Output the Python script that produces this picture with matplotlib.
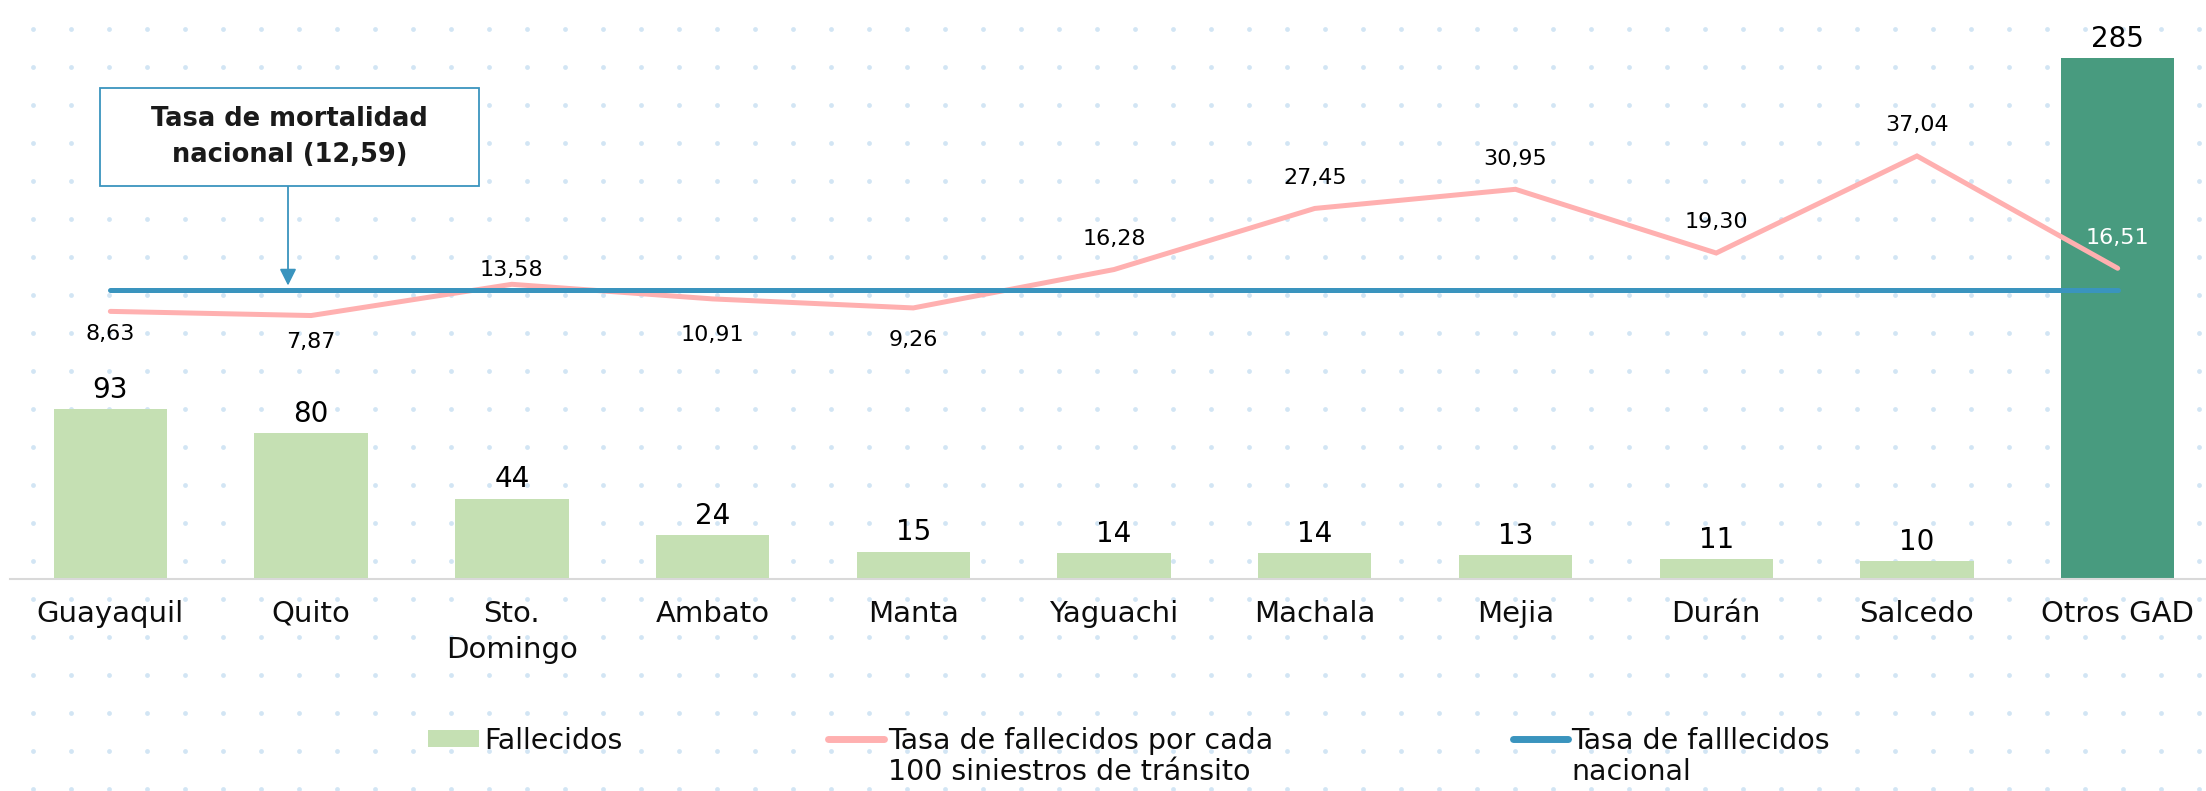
import numpy as np
import matplotlib
matplotlib.use("Agg")
import matplotlib.pyplot as plt
from matplotlib.patches import Rectangle
from matplotlib.lines import Line2D

# datos
categorias = ["Guayaquil", "Quito", "Sto.\nDomingo", "Ambato", "Manta", "Yaguachi",
              "Machala", "Mejia", "Durán", "Salcedo", "Otros GAD"]
fallecidos = [93, 80, 44, 24, 15, 14, 14, 13, 11, 10, 285]
tasa_gad = [8.63, 7.87, 13.58, 10.91, 9.26, 16.28, 27.45, 30.95, 19.30, 37.04, 16.51]
tasa_nacional = [12.59] * len(categorias)

# estilos
VERDE = "#C5E0B3"
VERDE_OSC = "#489B7F"
ROSA = "#FFB0B0"
AZUL = "#3A94BE"
colores = [VERDE] * (len(categorias) - 1) + [VERDE_OSC]
# desplazamiento vertical de etiquetas de tasa (pt)
off_tasa = [-16, -19, 10, -26, -23, 22, 22, 22, 22, 22, 22]

W, H = 2206, 791
fig = plt.figure(figsize=(W / 100, H / 100), dpi=100)

# fondo punteado
bg = fig.add_axes([0, 0, 1, 1], zorder=0)
bg.set_xlim(0, W)
bg.set_ylim(H, 0)
gx, gy = np.meshgrid(np.arange(33, W, 38), np.arange(29, H, 38))
bg.scatter(gx.ravel(), gy.ravel(), s=12, color="#D2E5F4", linewidths=0)
bg.axis("off")

x = np.arange(len(categorias))
ax = fig.add_axes([10 / W, (H - 579) / H, (W - 10) / W, 579 / H], zorder=1)
ax.patch.set_alpha(0)
ax.bar(x, fallecidos, width=0.565, color=colores, zorder=2)
ax.set_xlim(-0.5, 10.44)
ax.set_ylim(0, 316.7)
for i, v in enumerate(fallecidos):
    ax.annotate(str(v), (i, v), xytext=(0, 8), textcoords="offset points",
                ha="center", va="baseline", fontsize=20, color="#000000")

ax.set_xticks(x)
ax.set_xticklabels(categorias, fontsize=21, color="#0d0d0d", linespacing=1.35)
ax.tick_params(axis="x", length=0, pad=15)
ax.set_yticks([])
for s in ["top", "left", "right"]:
    ax.spines[s].set_visible(False)
ax.spines["bottom"].set_color("#D9D9D9")
ax.spines["bottom"].set_linewidth(1.5)

ax2 = ax.twinx()
ax2.set_ylim(-40.3, 65.56)
ax2.plot(x, tasa_gad, color=ROSA, lw=3.6, solid_capstyle="round", solid_joinstyle="miter")
ax2.plot(x, tasa_nacional, color=AZUL, lw=3.6, solid_capstyle="round")
for i, v in enumerate(tasa_gad):
    ax2.annotate(f"{v:.2f}".replace(".", ","), (i, v), xytext=(0, off_tasa[i]),
                 textcoords="offset points", ha="center", va="center", fontsize=16,
                 color="white" if i == len(tasa_gad) - 1 else "#000000")
ax2.set_yticks([])
for s in ["top", "left", "right", "bottom"]:
    ax2.spines[s].set_visible(False)

# recuadro de la tasa nacional
fig.patches.append(Rectangle((100 / W, (H - 186) / H), 379 / W, 98 / H,
                             transform=fig.transFigure, fill=True, facecolor="white",
                             edgecolor=AZUL, lw=1.3, zorder=3))
fig.text(289.5 / W, (H - 137) / H, "Tasa de mortalidad\nnacional (12,59)",
         ha="center", va="center", fontsize=18.5, fontweight="bold", color="#1a1a1a",
         linespacing=1.45, zorder=4)
ax2.annotate("", xy=(0.885, 12.59), xycoords="data", xytext=(288, H - 186),
             textcoords="figure pixels",
             arrowprops=dict(arrowstyle="-|>", color=AZUL, lw=1.3,
                             mutation_scale=25, shrinkA=0, shrinkB=3))

# leyenda (a mano, para alinear el símbolo con la primera línea)
fig.patches.append(Rectangle((428 / W, (H - 747) / H), 51 / W, 17 / H,
                             transform=fig.transFigure, facecolor=VERDE, lw=0))
for x0, x1, col in [(828, 884, ROSA), (1513, 1568, AZUL)]:
    fig.add_artist(Line2D([x0 / W, x1 / W], [(H - 739) / H] * 2, transform=fig.transFigure,
                          color=col, lw=5, solid_capstyle="round"))
for px, lab in [(484, "Fallecidos"),
                (888, "Tasa de fallecidos por cada\n100 siniestros de tránsito"),
                (1571, "Tasa de falllecidos\nnacional")]:
    fig.text(px / W, (H - 727) / H, lab, ha="left", va="top", fontsize=20.5,
             color="#0d0d0d", linespacing=1.15)

fig.savefig("out.png", dpi=100)
